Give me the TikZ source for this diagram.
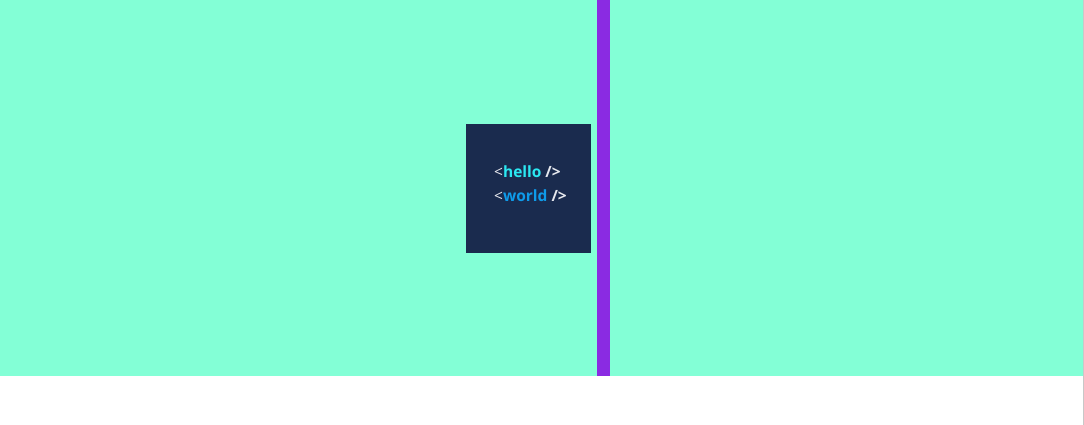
\documentclass[tikz,border=0pt]{standalone}
\usepackage{fontspec}
\setmainfont{Open Sans}
\definecolor{bggreen}{HTML}{83FFD6}
\definecolor{navy}{HTML}{1A2B4E}
\definecolor{violet}{HTML}{8A2BE2}
\definecolor{hellocol}{HTML}{2BE8F2}
\definecolor{worldcol}{HTML}{0E9BEA}
\definecolor{txtgray}{HTML}{E6E8EE}
\definecolor{edgegray}{HTML}{C8C8C8}
\tikzset{
  codeline/.style={anchor=west, inner sep=0pt, font=\fontsize{15.5}{17}\selectfont, text=txtgray}
}
\begin{document}
\begin{tikzpicture}[x=1pt,y=-1pt]
\useasboundingbox (0,0) rectangle (1084,425);
\fill[white] (0,0) rectangle (1084,425);
\fill[bggreen] (0,0) rectangle (1083,376);
\fill[edgegray] (1083,0) rectangle (1084,425);
\fill[violet] (597,0) rectangle (610,376);
\fill[navy] (466,124) rectangle (591,253);
\node[codeline] (l1) at (494,172) {<\textbf{\textcolor{hellocol}{hello}} \textbf{/>}};
\node[codeline] (l2) at (494,196) {<\textbf{\textcolor{worldcol}{world}} \textbf{/>}};
\end{tikzpicture}
\end{document}
